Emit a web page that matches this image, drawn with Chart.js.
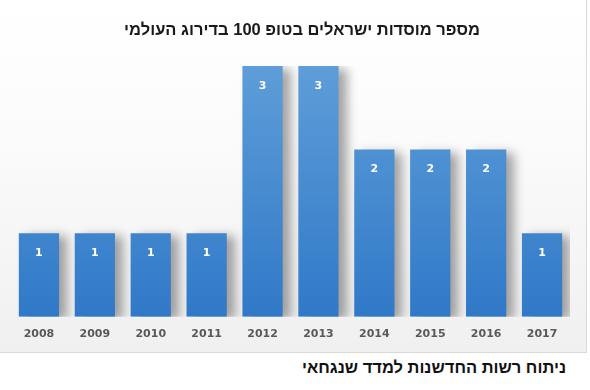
<!DOCTYPE html>
<html>
<head>
<meta charset="utf-8">
<script src="https://cdn.jsdelivr.net/npm/chart.js@4/dist/chart.umd.min.js"></script>
<style>
  html, body { margin: 0; padding: 0; background: #fff; }
  #wrap { position: relative; width: 590px; height: 390px; overflow: hidden; }
  #box {
    position: absolute; left: 0; top: 0; width: 587px; height: 353px;
    background: linear-gradient(to bottom, #ffffff 0%, #fbfbfb 40%, #f0f0f0 100%);
    border-right: 1px solid #d9d9d9; border-bottom: 1px solid #d9d9d9;
    box-sizing: border-box;
  }
  #title {
    position: absolute; left: 0; top: 20px; width: 604px; text-align: center;
    font: bold 16.5px "Liberation Sans", "DejaVu Sans", sans-serif; color: #1a1a1a;
  }
  #note {
    position: absolute; right: 24px; top: 358px;
    font: bold 16.5px "Liberation Sans", "DejaVu Sans", sans-serif; color: #111;
  }
  #chart { position: absolute; left: 0; top: 0; }
</style>
</head>
<body>
<div id="wrap">
  <div id="box"></div>
  <canvas id="chart" width="587" height="353"></canvas>
  <div id="title" dir="rtl">מספר מוסדות ישראלים בטופ 100 בדירוג העולמי</div>
  <div id="note" dir="rtl">ניתוח רשות החדשנות למדד שנגחאי</div>
</div>
<script>
// chart data
const years = ['2008', '2009', '2010', '2011', '2012', '2013', '2014', '2015', '2016', '2017'];
const institutions = [1, 1, 1, 1, 3, 3, 2, 2, 2, 1];
const yTicks = [0, 1, 2, 3];

// soft drop shadow behind the bars
const barShadow = {
    id: 'barShadow',
    beforeDatasetDraw(chart) {
        const ctx = chart.ctx;
        ctx.save();
        ctx.shadowColor = 'rgba(0, 0, 0, 0.35)';
        ctx.shadowBlur = 10;
        ctx.shadowOffsetX = 8;
        ctx.shadowOffsetY = 3;
    },
    afterDatasetDraw(chart) {
        chart.ctx.restore();
    }
};

// white value labels near the top of each bar
const valueLabels = {
    id: 'valueLabels',
    afterDatasetsDraw(chart) {
        const ctx = chart.ctx;
        const meta = chart.getDatasetMeta(0);
        ctx.save();
        ctx.fillStyle = '#ffffff';
        ctx.font = 'bold 11px "DejaVu Sans", sans-serif';
        ctx.textAlign = 'center';
        ctx.textBaseline = 'middle';
        meta.data.forEach((bar, i) => {
            ctx.fillText(String(institutions[i]), bar.x, bar.y + 20);
        });
        ctx.restore();
    }
};

new Chart(document.getElementById('chart'), {
    type: 'bar',
    data: {
        labels: years,
        datasets: [{
            data: institutions,
            backgroundColor: (c) => {
                const area = c.chart.chartArea;
                if (!area) return '#4a8fd6';
                const g = c.chart.ctx.createLinearGradient(0, area.top, 0, area.bottom);
                g.addColorStop(0, '#5e9dd8');
                g.addColorStop(1, '#3079c8');
                return g;
            },
            borderWidth: 0,
            barPercentage: 0.72,
            categoryPercentage: 1
        }]
    },
    options: {
        responsive: false,
        animation: false,
        devicePixelRatio: 1,
        layout: {
            padding: { left: 11, right: 17, top: 66, bottom: 1 }
        },
        plugins: {
            legend: { display: false },
            tooltip: { enabled: false }
        },
        scales: {
            x: {
                grid: { display: false, drawTicks: false },
                border: { display: false },
                ticks: {
                    color: '#595959',
                    padding: 11,
                    font: { family: '"DejaVu Sans", sans-serif', size: 11, weight: 'bold' }
                }
            },
            y: {
                display: false,
                min: yTicks[0],
                max: yTicks[yTicks.length - 1]
            }
        }
    },
    plugins: [barShadow, valueLabels]
});
</script>
</body>
</html>
